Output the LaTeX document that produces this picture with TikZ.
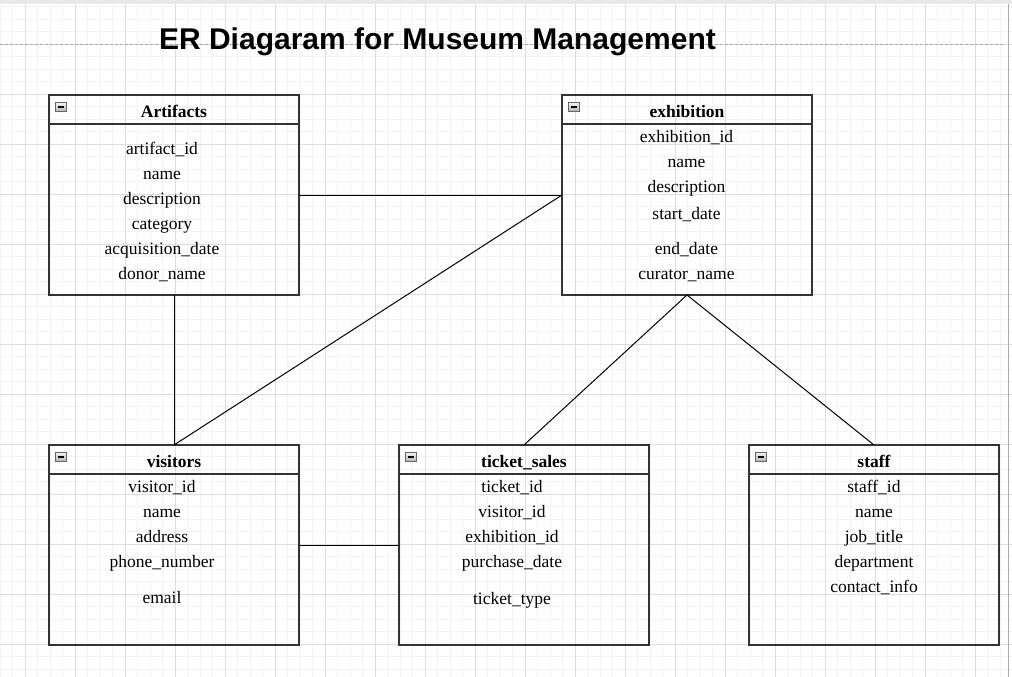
\documentclass[tikz,border=0pt]{standalone}
\usepackage{fontspec}
\setmainfont{Liberation Serif}
\newfontfamily\titlefont{Liberation Sans}
\usetikzlibrary{positioning}

\definecolor{boxgray}{HTML}{333333}
\definecolor{gridminor}{HTML}{F3F3F3}
\definecolor{gridmajor}{HTML}{DDDDDD}
\definecolor{pageline}{HTML}{ABABAB}

\begin{document}
\begin{tikzpicture}[x=1pt,y=-1pt,line join=miter,
    entity/.style={draw=boxgray,line width=1.3pt,minimum width=250pt,
                   minimum height=200pt,inner sep=0pt,outer sep=0pt},
    headline/.style={draw=boxgray,line width=1.3pt},
    header/.style={anchor=base,inner sep=0pt,
                   font=\fontsize{17.5pt}{21pt}\selectfont\bfseries},
    attr/.style={anchor=base,inner sep=0pt,
                 font=\fontsize{17.5pt}{21pt}\selectfont},
    toggle/.style={draw=gray!80!black,top color=gray!10,bottom color=gray!60,
                   minimum width=11pt,minimum height=9pt,inner sep=0pt,
                   path picture={\draw[black,line width=1.2pt]
                     ([xshift=2.5pt]path picture bounding box.west) --
                     ([xshift=-2.5pt]path picture bounding box.east);}},
    link/.style={draw=black,line width=1pt}]

  % background and grid
  \useasboundingbox (0,0) rectangle (1012,677);
  \fill[white] (0,0) rectangle (1012,677);
  \foreach \x in {0,12.5,...,1012} \draw[gridminor,line width=0.7pt] (\x,0) -- (\x,677);
  \foreach \y in {6.5,19,...,677} \draw[gridminor,line width=0.7pt] (0,\y) -- (1012,\y);
  \foreach \x in {25,75,...,1000} \draw[gridmajor,line width=0.8pt] (\x,0) -- (\x,677);
  \foreach \y in {44,94,...,644} \draw[gridmajor,line width=0.8pt] (0,\y) -- (1012,\y);
  \fill[gray!18] (0,0) rectangle (1012,4);
  \draw[pageline,line width=0.9pt] (1008,4) -- (1008,677);
  \draw[pageline,line width=1pt,dash pattern=on 3pt off 2pt] (0,45) -- (1005,45);

  % title
  \node[anchor=base,inner sep=0pt,font=\titlefont\fontsize{30pt}{36pt}\selectfont\bfseries]
    (title) at (437.5,49.5) {ER Diagaram for Museum Management};

  % entities
  \node[entity]                      (art) at (174,195) {};
  \node[entity,right=263pt of art]   (exh) {};
  \node[entity,below=150pt of art]   (vis) {};
  \node[entity,right=100pt of vis]   (tic) {};
  \node[entity,right=100pt of tic]   (stf) {};

  % header bars
  \foreach \e/\t in {art/Artifacts,exh/exhibition,vis/visitors,tic/ticket\_sales,stf/staff}{
    \draw[headline] ([yshift=-29pt]\e.north west) -- ([yshift=-29pt]\e.north east);
    \node[header] (\e-title) at ([yshift=-22pt]\e.north) {\t};
    \node[toggle] (\e-icon) at ([xshift=11.5pt,yshift=-12pt]\e.north west) {};
  }

  % attributes
  \foreach \y/\t [count=\i] in {154/artifact\_id,179/name,204/description,
      229/category,254/acquisition\_date,279/donor\_name}
    \node[attr] (art-a\i) at (162,\y) {\t};
  \foreach \y/\t [count=\i] in {142/exhibition\_id,167/name,192/description,
      219/start\_date,254/end\_date,279/curator\_name}
    \node[attr] (exh-a\i) at (686.5,\y) {\t};
  \foreach \y/\t [count=\i] in {492/visitor\_id,517/name,542/address,
      567/phone\_number,603/email}
    \node[attr] (vis-a\i) at (162,\y) {\t};
  \foreach \y/\t [count=\i] in {492/ticket\_id,517/visitor\_id,542/exhibition\_id,
      567/purchase\_date,604/ticket\_type}
    \node[attr] (tic-a\i) at (512,\y) {\t};
  \foreach \y/\t [count=\i] in {492/staff\_id,517/name,542/job\_title,
      567/department,592/contact\_info}
    \node[attr] (stf-a\i) at (874,\y) {\t};

  % relationships
  \path (art.east)  edge[link] (exh.west)
        (art.south) edge[link] (vis.north)
        (exh.west)  edge[link] (vis.north)
        (exh.south) edge[link] (tic.north)
                    edge[link] (stf.north)
        (vis.east)  edge[link] (tic.west);

\end{tikzpicture}
\end{document}
